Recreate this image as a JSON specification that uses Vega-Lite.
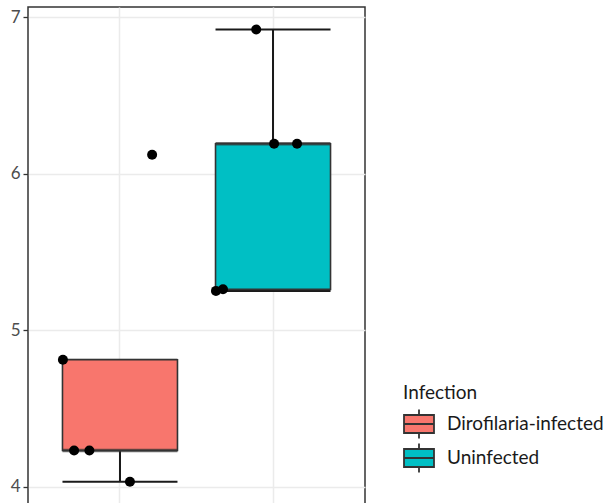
{
  "$schema": "https://vega.github.io/schema/vega-lite/v6.json",
  "autosize": {"type": "none"},
  "width": 337,
  "height": 503,
  "padding": {"left": 28, "top": 7, "right": 244, "bottom": 0},
  "background": "white",
  "config": {
    "view": {"stroke": "#333333", "strokeWidth": 1.5},
    "font": "Lato"
  },
  "data": {
    "values": [
      {"Infection": "Dirofilaria-infected", "value": 4.81, "jitter": -0.373},
      {"Infection": "Dirofilaria-infected", "value": 4.23, "jitter": -0.30},
      {"Infection": "Dirofilaria-infected", "value": 4.23, "jitter": -0.20},
      {"Infection": "Dirofilaria-infected", "value": 4.03, "jitter": 0.065},
      {"Infection": "Dirofilaria-infected", "value": 6.12, "jitter": 0.21},
      {"Infection": "Uninfected", "value": 6.92, "jitter": -0.11},
      {"Infection": "Uninfected", "value": 6.19, "jitter": 0.007},
      {"Infection": "Uninfected", "value": 6.19, "jitter": 0.157},
      {"Infection": "Uninfected", "value": 5.25, "jitter": -0.373},
      {"Infection": "Uninfected", "value": 5.26, "jitter": -0.327}
    ]
  },
  "encoding": {
    "x": {
      "field": "Infection", "type": "nominal",
      "scale": {"paddingInner": 0.25, "paddingOuter": 0.226},
      "axis": {"title": null, "labels": false, "ticks": false, "domain": false, "grid": true, "gridColor": "#EBEBEB", "gridWidth": 1.5, "bandPosition": 0.5}
    },
    "y": {
      "field": "value", "type": "quantitative",
      "scale": {"domain": [3.85, 7.064], "nice": false, "zero": false},
      "axis": {
        "title": null,
        "values": [4, 4.5, 5, 5.5, 6, 6.5, 7],
        "format": "d",
        "labelExpr": "datum.value % 1 == 0 ? datum.label : ''",
        "domain": false,
        "grid": true,
        "gridColor": "#EBEBEB",
        "gridWidth": 1.3,
        "tickColor": "#333333",
        "tickSize": 5,
        "tickWidth": 1.3,
        "tickOpacity": {"condition": {"test": "datum.value % 1 != 0", "value": 0}, "value": 1},
        "labelColor": "#4D4D4D",
        "labelFontSize": 17,
        "labelPadding": 3,
        "labelFont": "Lato"
      }
    }
  },
  "layer": [
    {
      "mark": {
        "type": "boxplot",
        "extent": 1.5,
        "outliers": false,
        "size": 115,
        "box": {"stroke": "#333333", "strokeWidth": 1.6},
        "median": {"color": "#333333", "thickness": 3.5},
        "rule": {"color": "#1A1A1A", "strokeWidth": 2},
        "ticks": {"color": "#1A1A1A", "thickness": 2, "size": 115}
      },
      "encoding": {
        "color": {
          "field": "Infection", "type": "nominal",
          "scale": {"range": ["#F8766D", "#00BFC4"]},
          "legend": {
            "title": "Infection",
            "orient": "none",
            "legendX": 375,
            "legendY": 377,
            "titleFont": "Lato",
            "titleFontSize": 19,
            "titleFontWeight": "normal",
            "titleColor": "#1A1A1A",
            "titlePadding": 5,
            "labelFont": "Lato",
            "labelFontSize": 19,
            "labelColor": "#1A1A1A",
            "labelOffset": 12,
            "rowPadding": -11,
            "symbolType": "M-1,-0.6H1V0.6H-1Z M-1,0H1 M0,-0.6V-0.96 M0,0.6V0.96",
            "symbolSize": 900,
            "symbolOpacity": 1,
            "symbolStrokeColor": "#333333",
            "symbolStrokeWidth": 1.8
          }
        }
      }
    },
    {
      "mark": {"type": "point", "filled": true, "color": "black", "opacity": 1, "size": 100},
      "encoding": {
        "xOffset": {"field": "jitter", "type": "quantitative", "scale": {"domain": [-0.5, 0.5], "range": [-19.1, 133.9]}}
      }
    }
  ]
}
